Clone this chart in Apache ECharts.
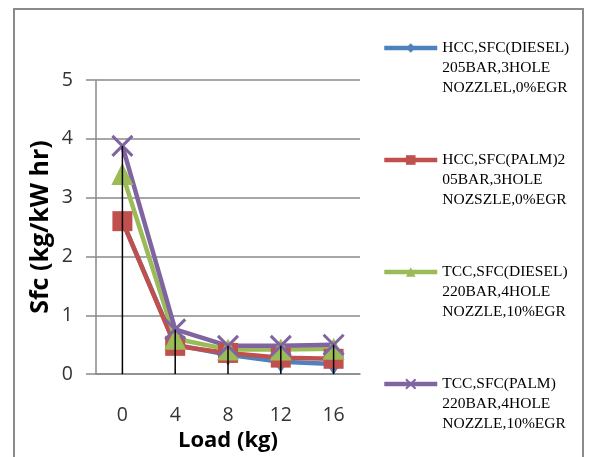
<!DOCTYPE html>
<html>
<head>
<meta charset="utf-8">
<script src="https://cdn.jsdelivr.net/npm/echarts@6/dist/echarts.min.js"></script>
<style>
  html, body { margin: 0; padding: 0; background: #fff; }
  #chart { width: 589px; height: 457px; }
</style>
</head>
<body>
<div id="chart"></div>
<script>
// Load steps (kg)
const loads = ['0', '4', '8', '12', '16'];

// Specific fuel consumption, kg/kW hr
const hccDiesel = [2.60, 0.50, 0.33, 0.21, 0.17];
const hccPalm   = [2.60, 0.48, 0.36, 0.28, 0.26];
const tccDiesel = [3.40, 0.60, 0.42, 0.42, 0.43];
const tccPalm   = [3.88, 0.76, 0.48, 0.48, 0.50];

const seriesNames = [
  'HCC,SFC(DIESEL)\n205BAR,3HOLE\nNOZZLEL,0%EGR',
  'HCC,SFC(PALM)2\n05BAR,3HOLE\nNOZSZLE,0%EGR',
  'TCC,SFC(DIESEL)\n220BAR,4HOLE\nNOZZLE,10%EGR',
  'TCC,SFC(PALM)\n220BAR,4HOLE\nNOZZLE,10%EGR'
];

const yTicks = { min: 0, max: 5, step: 1 };

// Drop lines run from the highest value at each load down to the axis
const dropTop = loads.map((_, i) =>
  Math.max(hccDiesel[i], hccPalm[i], tccDiesel[i], tccPalm[i]));

const colors = ['#4F81BD', '#C0504D', '#9BBB59', '#8064A2'];
const crossPath = 'path://M0,0L10,10M10,0L0,10';
const sans = 'Open Sans';

function lineSeries(name, data, color, symbol, size, extra) {
  return Object.assign({
    name: name,
    type: 'line',
    data: data,
    symbol: symbol,
    symbolSize: size,
    showAllSymbol: true,
    lineStyle: { color: color, width: 4.5 },
    itemStyle: { color: color },
    emphasis: { disabled: true }
  }, extra || {});
}

const chart = echarts.init(document.getElementById('chart'));
chart.setOption({
  animation: false,
  backgroundColor: '#ffffff',
  graphic: [{
    type: 'rect',
    shape: { x: 14, y: 9, width: 569, height: 460 },
    style: { fill: 'none', stroke: '#8a8a8a', lineWidth: 2 },
    silent: true
  }],
  grid: { left: 96, right: 229, top: 80, bottom: 82 },
  legend: {
    data: seriesNames,
    orient: 'vertical',
    left: 382,
    top: -2,
    padding: 0,
    itemWidth: 53,
    itemHeight: 12,
    itemGap: 12,
    selectedMode: false,
    // two blank lines above keep the key level with the first text line
    formatter: (name) => '\n\n' + name,
    lineStyle: { width: 4.5 },
    textStyle: {
      fontFamily: 'Liberation Serif',
      fontSize: 15.5,
      lineHeight: 20,
      color: '#000'
    }
  },
  xAxis: {
    type: 'category',
    data: loads,
    name: 'Load (kg)',
    nameLocation: 'middle',
    nameGap: 51,
    nameTextStyle: { fontFamily: sans, fontWeight: 'bold', fontSize: 22, color: '#000' },
    axisLine: { lineStyle: { color: '#8a8a8a', width: 1.5 } },
    axisTick: { show: false },
    axisLabel: { fontFamily: sans, fontSize: 19.5, color: '#333', margin: 31 }
  },
  yAxis: {
    type: 'value',
    min: yTicks.min,
    max: yTicks.max,
    interval: yTicks.step,
    name: 'Sfc (kg/kW hr)',
    nameLocation: 'middle',
    nameGap: 43,
    nameTextStyle: { fontFamily: sans, fontWeight: 'bold', fontSize: 25, color: '#000' },
    axisLine: { show: true, lineStyle: { color: '#8a8a8a', width: 1.5 } },
    axisTick: { show: true, inside: false, length: 10, lineStyle: { color: '#8a8a8a', width: 1.5 } },
    splitLine: { show: true, lineStyle: { color: '#8a8a8a', width: 1.5 } },
    axisLabel: { fontFamily: sans, fontSize: 19.5, color: '#333', margin: 23 }
  },
  series: [
    lineSeries(seriesNames[0], hccDiesel, colors[0], 'diamond', [14, 22]),
    lineSeries(seriesNames[1], hccPalm, colors[1], 'rect', 20),
    lineSeries(seriesNames[2], tccDiesel, colors[2], 'triangle', 22),
    lineSeries(seriesNames[3], tccPalm, colors[3], crossPath, 20, {
      itemStyle: { color: colors[3], borderColor: colors[3], borderWidth: 3 }
    }),
    {
      name: 'drop',
      type: 'bar',
      data: dropTop,
      barWidth: 1.5,
      z: 5,
      silent: true,
      itemStyle: { color: '#000' }
    }
  ]
});
</script>
</body>
</html>
